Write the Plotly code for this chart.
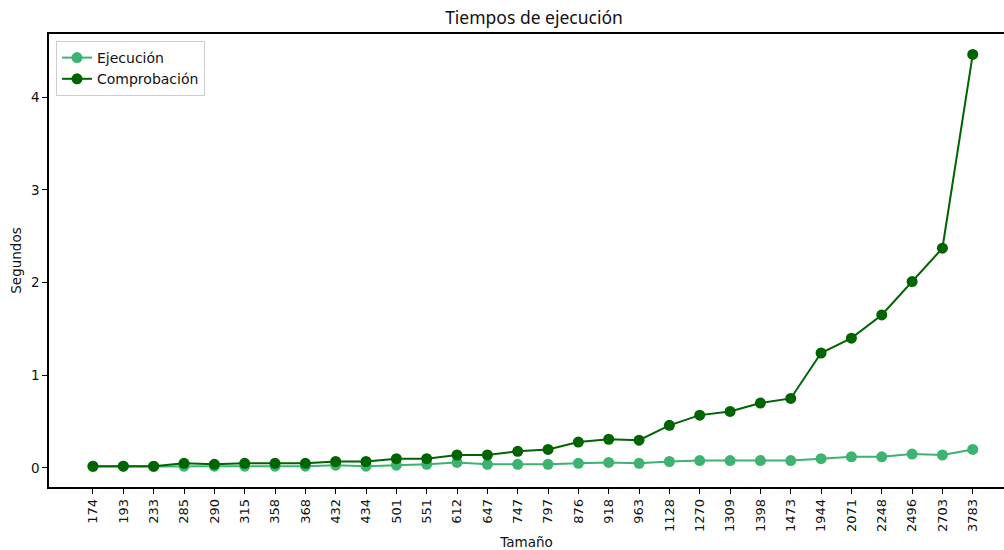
import plotly.graph_objects as go

# Tamaño de la entrada y tiempos medidos (segundos)
tamanos = ["174", "193", "233", "285", "290", "315", "358", "368", "432", "434",
           "501", "551", "612", "647", "747", "797", "876", "918", "963", "1128",
           "1270", "1309", "1398", "1473", "1944", "2071", "2248", "2496", "2703", "3783"]

ejecucion = [0.015, 0.02, 0.015, 0.02, 0.02, 0.02, 0.02, 0.02, 0.03, 0.02,
             0.03, 0.04, 0.06, 0.04, 0.04, 0.04, 0.05, 0.06, 0.05, 0.07,
             0.08, 0.08, 0.08, 0.08, 0.10, 0.12, 0.12, 0.15, 0.14, 0.20]

comprobacion = [0.02, 0.02, 0.02, 0.05, 0.04, 0.05, 0.05, 0.05, 0.07, 0.07,
                0.10, 0.10, 0.14, 0.14, 0.18, 0.20, 0.28, 0.31, 0.30, 0.46,
                0.57, 0.61, 0.70, 0.75, 1.24, 1.40, 1.65, 2.01, 2.37, 4.46]

FONT = "DejaVu Sans"
TXT = "#111"

fig = go.Figure()
fig.add_trace(go.Scatter(
    x=tamanos, y=ejecucion, name="Ejecución", mode="lines+markers",
    line=dict(color="#3CB371", width=2),
    marker=dict(color="#3CB371", size=11, line=dict(width=0)),
))
fig.add_trace(go.Scatter(
    x=tamanos, y=comprobacion, name="Comprobación", mode="lines+markers",
    line=dict(color="#006400", width=2),
    marker=dict(color="#006400", size=11, line=dict(width=0)),
))

W, H = 1004, 550
L, R, T, B = 49, 0, 34, 63
plot_w = W - L - R
plot_h = H - T - B

fig.update_layout(
    width=W, height=H,
    margin=dict(l=L, r=R, t=T, b=B),
    paper_bgcolor="white", plot_bgcolor="white",
    font=dict(family=FONT, size=13, color=TXT),
    title=dict(text="Tiempos de ejecución", x=534 / W, xanchor="center",
               y=1 - 18 / H, yanchor="middle",
               font=dict(family="Noto Sans", size=17.5, color=TXT)),
    showlegend=True,
    legend=dict(x=(56 - L) / plot_w, y=1 - (41 - T) / plot_h, xanchor="left", yanchor="top",
                bgcolor="white", bordercolor="#cccccc", borderwidth=1,
                font=dict(family=FONT, size=14, color=TXT),
                tracegroupgap=0, itemwidth=30),
    xaxis=dict(
        type="category", range=[-1.45, 30.03],
        showline=True, linecolor="black", linewidth=1.5, mirror=True,
        ticks="outside", ticklen=5, tickcolor="black", tickangle=-90,
        showgrid=False, zeroline=False,
        tickfont=dict(family=FONT, size=13, color=TXT),
        title=dict(text="Tamaño", font=dict(family=FONT, size=13.5, color=TXT), standoff=8),
    ),
    yaxis=dict(
        range=[-0.205, 4.68], tickvals=[0, 1, 2, 3, 4],
        showline=True, linecolor="black", linewidth=1.5, mirror=False,
        ticks="outside", ticklen=5, tickcolor="black",
        showgrid=False, zeroline=False,
        tickfont=dict(family=FONT, size=13.5, color=TXT),
        title=dict(text="Segundos", font=dict(family=FONT, size=13.5, color=TXT), standoff=6),
    ),
)

fig.write_html("out.html")
